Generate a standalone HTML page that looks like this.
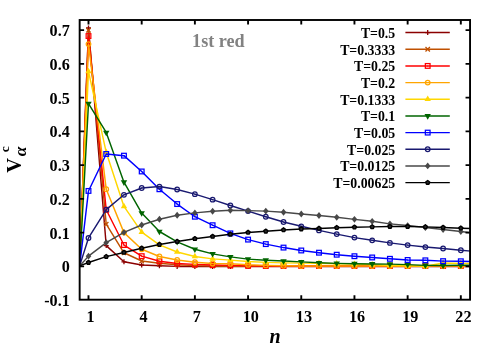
<!DOCTYPE html>
<html><head><meta charset="utf-8"><title>plot</title>
<style>
html,body{margin:0;padding:0;background:#fff;}
body{width:500px;height:350px;overflow:hidden;}
svg{display:block;will-change:transform;}
text{font-family:"Liberation Serif",serif;font-weight:bold;fill:#000;}
</style></head><body>
<svg width="500" height="350" viewBox="0 0 500 350">
<rect x="0" y="0" width="500" height="350" fill="#fff"/>
<defs><clipPath id="c"><rect x="79.7" y="20.0" width="390.4" height="279.7"/></clipPath></defs>

<g clip-path="url(#c)">
<path d="M79.65 265.90L88.50 27.98L106.23 245.61L123.96 261.81L141.69 265.00L159.42 265.80L177.15 266.40L194.88 266.40L212.61 266.40L230.34 266.40L248.07 266.40L265.80 266.40L283.53 266.40L301.26 266.40L318.99 266.40L336.72 266.40L354.45 266.40L372.18 266.40L389.91 266.40L407.64 266.40L425.37 266.40L443.10 266.40L460.83 266.40L478.56 266.40" stroke="#8b0000" stroke-width="1.45" fill="none" stroke-linejoin="round"/>
<path d="M86.00 27.98H91.00M88.50 25.48V30.48" stroke="#8b0000" stroke-width="1.3" fill="none"/>
<path d="M103.73 245.61H108.73M106.23 243.11V248.11" stroke="#8b0000" stroke-width="1.3" fill="none"/>
<path d="M121.46 261.81H126.46M123.96 259.31V264.31" stroke="#8b0000" stroke-width="1.3" fill="none"/>
<path d="M139.19 265.00H144.19M141.69 262.50V267.50" stroke="#8b0000" stroke-width="1.3" fill="none"/>
<path d="M156.92 265.80H161.92M159.42 263.30V268.30" stroke="#8b0000" stroke-width="1.3" fill="none"/>
<path d="M174.65 266.40H179.65M177.15 263.90V268.90" stroke="#8b0000" stroke-width="1.3" fill="none"/>
<path d="M192.38 266.40H197.38M194.88 263.90V268.90" stroke="#8b0000" stroke-width="1.3" fill="none"/>
<path d="M210.11 266.40H215.11M212.61 263.90V268.90" stroke="#8b0000" stroke-width="1.3" fill="none"/>
<path d="M227.84 266.40H232.84M230.34 263.90V268.90" stroke="#8b0000" stroke-width="1.3" fill="none"/>
<path d="M245.57 266.40H250.57M248.07 263.90V268.90" stroke="#8b0000" stroke-width="1.3" fill="none"/>
<path d="M263.30 266.40H268.30M265.80 263.90V268.90" stroke="#8b0000" stroke-width="1.3" fill="none"/>
<path d="M281.03 266.40H286.03M283.53 263.90V268.90" stroke="#8b0000" stroke-width="1.3" fill="none"/>
<path d="M298.76 266.40H303.76M301.26 263.90V268.90" stroke="#8b0000" stroke-width="1.3" fill="none"/>
<path d="M316.49 266.40H321.49M318.99 263.90V268.90" stroke="#8b0000" stroke-width="1.3" fill="none"/>
<path d="M334.22 266.40H339.22M336.72 263.90V268.90" stroke="#8b0000" stroke-width="1.3" fill="none"/>
<path d="M351.95 266.40H356.95M354.45 263.90V268.90" stroke="#8b0000" stroke-width="1.3" fill="none"/>
<path d="M369.68 266.40H374.68M372.18 263.90V268.90" stroke="#8b0000" stroke-width="1.3" fill="none"/>
<path d="M387.41 266.40H392.41M389.91 263.90V268.90" stroke="#8b0000" stroke-width="1.3" fill="none"/>
<path d="M405.14 266.40H410.14M407.64 263.90V268.90" stroke="#8b0000" stroke-width="1.3" fill="none"/>
<path d="M422.87 266.40H427.87M425.37 263.90V268.90" stroke="#8b0000" stroke-width="1.3" fill="none"/>
<path d="M440.60 266.40H445.60M443.10 263.90V268.90" stroke="#8b0000" stroke-width="1.3" fill="none"/>
<path d="M458.33 266.40H463.33M460.83 263.90V268.90" stroke="#8b0000" stroke-width="1.3" fill="none"/>
<path d="M79.65 265.90L88.50 30.34L106.23 224.21L123.96 252.77L141.69 260.97L159.42 263.18L177.15 264.80L194.88 265.60L212.61 266.00L230.34 266.30L248.07 266.30L265.80 266.30L283.53 266.30L301.26 266.30L318.99 266.30L336.72 266.30L354.45 266.30L372.18 266.30L389.91 266.30L407.64 266.30L425.37 266.30L443.10 266.30L460.83 266.30L478.56 266.30" stroke="#c05000" stroke-width="1.45" fill="none" stroke-linejoin="round"/>
<path d="M86.30 28.14L90.70 32.54M86.30 32.54L90.70 28.14" stroke="#c05000" stroke-width="1.3" fill="none"/>
<path d="M104.03 222.01L108.43 226.41M104.03 226.41L108.43 222.01" stroke="#c05000" stroke-width="1.3" fill="none"/>
<path d="M121.76 250.57L126.16 254.97M121.76 254.97L126.16 250.57" stroke="#c05000" stroke-width="1.3" fill="none"/>
<path d="M139.49 258.77L143.89 263.17M139.49 263.17L143.89 258.77" stroke="#c05000" stroke-width="1.3" fill="none"/>
<path d="M157.22 260.98L161.62 265.38M157.22 265.38L161.62 260.98" stroke="#c05000" stroke-width="1.3" fill="none"/>
<path d="M174.95 262.60L179.35 267.00M174.95 267.00L179.35 262.60" stroke="#c05000" stroke-width="1.3" fill="none"/>
<path d="M192.68 263.40L197.08 267.80M192.68 267.80L197.08 263.40" stroke="#c05000" stroke-width="1.3" fill="none"/>
<path d="M210.41 263.80L214.81 268.20M210.41 268.20L214.81 263.80" stroke="#c05000" stroke-width="1.3" fill="none"/>
<path d="M228.14 264.10L232.54 268.50M228.14 268.50L232.54 264.10" stroke="#c05000" stroke-width="1.3" fill="none"/>
<path d="M245.87 264.10L250.27 268.50M245.87 268.50L250.27 264.10" stroke="#c05000" stroke-width="1.3" fill="none"/>
<path d="M263.60 264.10L268.00 268.50M263.60 268.50L268.00 264.10" stroke="#c05000" stroke-width="1.3" fill="none"/>
<path d="M281.33 264.10L285.73 268.50M281.33 268.50L285.73 264.10" stroke="#c05000" stroke-width="1.3" fill="none"/>
<path d="M299.06 264.10L303.46 268.50M299.06 268.50L303.46 264.10" stroke="#c05000" stroke-width="1.3" fill="none"/>
<path d="M316.79 264.10L321.19 268.50M316.79 268.50L321.19 264.10" stroke="#c05000" stroke-width="1.3" fill="none"/>
<path d="M334.52 264.10L338.92 268.50M334.52 268.50L338.92 264.10" stroke="#c05000" stroke-width="1.3" fill="none"/>
<path d="M352.25 264.10L356.65 268.50M352.25 268.50L356.65 264.10" stroke="#c05000" stroke-width="1.3" fill="none"/>
<path d="M369.98 264.10L374.38 268.50M369.98 268.50L374.38 264.10" stroke="#c05000" stroke-width="1.3" fill="none"/>
<path d="M387.71 264.10L392.11 268.50M387.71 268.50L392.11 264.10" stroke="#c05000" stroke-width="1.3" fill="none"/>
<path d="M405.44 264.10L409.84 268.50M405.44 268.50L409.84 264.10" stroke="#c05000" stroke-width="1.3" fill="none"/>
<path d="M423.17 264.10L427.57 268.50M423.17 268.50L427.57 264.10" stroke="#c05000" stroke-width="1.3" fill="none"/>
<path d="M440.90 264.10L445.30 268.50M440.90 268.50L445.30 264.10" stroke="#c05000" stroke-width="1.3" fill="none"/>
<path d="M458.63 264.10L463.03 268.50M458.63 268.50L463.03 264.10" stroke="#c05000" stroke-width="1.3" fill="none"/>
<path d="M79.65 265.90L88.50 36.05L106.23 209.76L123.96 245.04L141.69 256.16L159.42 261.27L177.15 263.52L194.88 264.40L212.61 265.00L230.34 265.40L248.07 265.80L265.80 266.00L283.53 266.00L301.26 266.00L318.99 266.00L336.72 266.00L354.45 266.00L372.18 266.00L389.91 266.00L407.64 266.00L425.37 266.00L443.10 266.00L460.83 266.00L478.56 266.00" stroke="#ff0000" stroke-width="1.45" fill="none" stroke-linejoin="round"/>
<rect x="86.15" y="33.70" width="4.7" height="4.7" stroke="#ff0000" stroke-width="1.25" fill="none"/><circle cx="88.50" cy="36.05" r="0.55" fill="#ff0000"/>
<rect x="103.88" y="207.41" width="4.7" height="4.7" stroke="#ff0000" stroke-width="1.25" fill="none"/><circle cx="106.23" cy="209.76" r="0.55" fill="#ff0000"/>
<rect x="121.61" y="242.69" width="4.7" height="4.7" stroke="#ff0000" stroke-width="1.25" fill="none"/><circle cx="123.96" cy="245.04" r="0.55" fill="#ff0000"/>
<rect x="139.34" y="253.81" width="4.7" height="4.7" stroke="#ff0000" stroke-width="1.25" fill="none"/><circle cx="141.69" cy="256.16" r="0.55" fill="#ff0000"/>
<rect x="157.07" y="258.92" width="4.7" height="4.7" stroke="#ff0000" stroke-width="1.25" fill="none"/><circle cx="159.42" cy="261.27" r="0.55" fill="#ff0000"/>
<rect x="174.80" y="261.17" width="4.7" height="4.7" stroke="#ff0000" stroke-width="1.25" fill="none"/><circle cx="177.15" cy="263.52" r="0.55" fill="#ff0000"/>
<rect x="192.53" y="262.05" width="4.7" height="4.7" stroke="#ff0000" stroke-width="1.25" fill="none"/><circle cx="194.88" cy="264.40" r="0.55" fill="#ff0000"/>
<rect x="210.26" y="262.65" width="4.7" height="4.7" stroke="#ff0000" stroke-width="1.25" fill="none"/><circle cx="212.61" cy="265.00" r="0.55" fill="#ff0000"/>
<rect x="227.99" y="263.05" width="4.7" height="4.7" stroke="#ff0000" stroke-width="1.25" fill="none"/><circle cx="230.34" cy="265.40" r="0.55" fill="#ff0000"/>
<rect x="245.72" y="263.45" width="4.7" height="4.7" stroke="#ff0000" stroke-width="1.25" fill="none"/><circle cx="248.07" cy="265.80" r="0.55" fill="#ff0000"/>
<rect x="263.45" y="263.65" width="4.7" height="4.7" stroke="#ff0000" stroke-width="1.25" fill="none"/><circle cx="265.80" cy="266.00" r="0.55" fill="#ff0000"/>
<rect x="281.18" y="263.65" width="4.7" height="4.7" stroke="#ff0000" stroke-width="1.25" fill="none"/><circle cx="283.53" cy="266.00" r="0.55" fill="#ff0000"/>
<rect x="298.91" y="263.65" width="4.7" height="4.7" stroke="#ff0000" stroke-width="1.25" fill="none"/><circle cx="301.26" cy="266.00" r="0.55" fill="#ff0000"/>
<rect x="316.64" y="263.65" width="4.7" height="4.7" stroke="#ff0000" stroke-width="1.25" fill="none"/><circle cx="318.99" cy="266.00" r="0.55" fill="#ff0000"/>
<rect x="334.37" y="263.65" width="4.7" height="4.7" stroke="#ff0000" stroke-width="1.25" fill="none"/><circle cx="336.72" cy="266.00" r="0.55" fill="#ff0000"/>
<rect x="352.10" y="263.65" width="4.7" height="4.7" stroke="#ff0000" stroke-width="1.25" fill="none"/><circle cx="354.45" cy="266.00" r="0.55" fill="#ff0000"/>
<rect x="369.83" y="263.65" width="4.7" height="4.7" stroke="#ff0000" stroke-width="1.25" fill="none"/><circle cx="372.18" cy="266.00" r="0.55" fill="#ff0000"/>
<rect x="387.56" y="263.65" width="4.7" height="4.7" stroke="#ff0000" stroke-width="1.25" fill="none"/><circle cx="389.91" cy="266.00" r="0.55" fill="#ff0000"/>
<rect x="405.29" y="263.65" width="4.7" height="4.7" stroke="#ff0000" stroke-width="1.25" fill="none"/><circle cx="407.64" cy="266.00" r="0.55" fill="#ff0000"/>
<rect x="423.02" y="263.65" width="4.7" height="4.7" stroke="#ff0000" stroke-width="1.25" fill="none"/><circle cx="425.37" cy="266.00" r="0.55" fill="#ff0000"/>
<rect x="440.75" y="263.65" width="4.7" height="4.7" stroke="#ff0000" stroke-width="1.25" fill="none"/><circle cx="443.10" cy="266.00" r="0.55" fill="#ff0000"/>
<rect x="458.48" y="263.65" width="4.7" height="4.7" stroke="#ff0000" stroke-width="1.25" fill="none"/><circle cx="460.83" cy="266.00" r="0.55" fill="#ff0000"/>
<path d="M79.65 265.90L88.50 44.11L106.23 189.16L123.96 232.61L141.69 249.21L159.42 256.46L177.15 259.99L194.88 262.20L212.61 263.50L230.34 263.80L248.07 264.80L265.80 265.40L283.53 265.80L301.26 266.00L318.99 266.00L336.72 266.00L354.45 266.00L372.18 266.00L389.91 266.00L407.64 266.00L425.37 266.00L443.10 266.00L460.83 266.00L478.56 266.00" stroke="#ffa500" stroke-width="1.45" fill="none" stroke-linejoin="round"/>
<circle cx="88.50" cy="44.11" r="2.3" stroke="#ffa500" stroke-width="1.25" fill="none"/><circle cx="88.50" cy="44.11" r="0.55" fill="#ffa500"/>
<circle cx="106.23" cy="189.16" r="2.3" stroke="#ffa500" stroke-width="1.25" fill="none"/><circle cx="106.23" cy="189.16" r="0.55" fill="#ffa500"/>
<circle cx="123.96" cy="232.61" r="2.3" stroke="#ffa500" stroke-width="1.25" fill="none"/><circle cx="123.96" cy="232.61" r="0.55" fill="#ffa500"/>
<circle cx="141.69" cy="249.21" r="2.3" stroke="#ffa500" stroke-width="1.25" fill="none"/><circle cx="141.69" cy="249.21" r="0.55" fill="#ffa500"/>
<circle cx="159.42" cy="256.46" r="2.3" stroke="#ffa500" stroke-width="1.25" fill="none"/><circle cx="159.42" cy="256.46" r="0.55" fill="#ffa500"/>
<circle cx="177.15" cy="259.99" r="2.3" stroke="#ffa500" stroke-width="1.25" fill="none"/><circle cx="177.15" cy="259.99" r="0.55" fill="#ffa500"/>
<circle cx="194.88" cy="262.20" r="2.3" stroke="#ffa500" stroke-width="1.25" fill="none"/><circle cx="194.88" cy="262.20" r="0.55" fill="#ffa500"/>
<circle cx="212.61" cy="263.50" r="2.3" stroke="#ffa500" stroke-width="1.25" fill="none"/><circle cx="212.61" cy="263.50" r="0.55" fill="#ffa500"/>
<circle cx="230.34" cy="263.80" r="2.3" stroke="#ffa500" stroke-width="1.25" fill="none"/><circle cx="230.34" cy="263.80" r="0.55" fill="#ffa500"/>
<circle cx="248.07" cy="264.80" r="2.3" stroke="#ffa500" stroke-width="1.25" fill="none"/><circle cx="248.07" cy="264.80" r="0.55" fill="#ffa500"/>
<circle cx="265.80" cy="265.40" r="2.3" stroke="#ffa500" stroke-width="1.25" fill="none"/><circle cx="265.80" cy="265.40" r="0.55" fill="#ffa500"/>
<circle cx="283.53" cy="265.80" r="2.3" stroke="#ffa500" stroke-width="1.25" fill="none"/><circle cx="283.53" cy="265.80" r="0.55" fill="#ffa500"/>
<circle cx="301.26" cy="266.00" r="2.3" stroke="#ffa500" stroke-width="1.25" fill="none"/><circle cx="301.26" cy="266.00" r="0.55" fill="#ffa500"/>
<circle cx="318.99" cy="266.00" r="2.3" stroke="#ffa500" stroke-width="1.25" fill="none"/><circle cx="318.99" cy="266.00" r="0.55" fill="#ffa500"/>
<circle cx="336.72" cy="266.00" r="2.3" stroke="#ffa500" stroke-width="1.25" fill="none"/><circle cx="336.72" cy="266.00" r="0.55" fill="#ffa500"/>
<circle cx="354.45" cy="266.00" r="2.3" stroke="#ffa500" stroke-width="1.25" fill="none"/><circle cx="354.45" cy="266.00" r="0.55" fill="#ffa500"/>
<circle cx="372.18" cy="266.00" r="2.3" stroke="#ffa500" stroke-width="1.25" fill="none"/><circle cx="372.18" cy="266.00" r="0.55" fill="#ffa500"/>
<circle cx="389.91" cy="266.00" r="2.3" stroke="#ffa500" stroke-width="1.25" fill="none"/><circle cx="389.91" cy="266.00" r="0.55" fill="#ffa500"/>
<circle cx="407.64" cy="266.00" r="2.3" stroke="#ffa500" stroke-width="1.25" fill="none"/><circle cx="407.64" cy="266.00" r="0.55" fill="#ffa500"/>
<circle cx="425.37" cy="266.00" r="2.3" stroke="#ffa500" stroke-width="1.25" fill="none"/><circle cx="425.37" cy="266.00" r="0.55" fill="#ffa500"/>
<circle cx="443.10" cy="266.00" r="2.3" stroke="#ffa500" stroke-width="1.25" fill="none"/><circle cx="443.10" cy="266.00" r="0.55" fill="#ffa500"/>
<circle cx="460.83" cy="266.00" r="2.3" stroke="#ffa500" stroke-width="1.25" fill="none"/><circle cx="460.83" cy="266.00" r="0.55" fill="#ffa500"/>
<path d="M79.65 265.90L88.50 71.33L106.23 152.30L123.96 206.40L141.69 232.10L159.42 244.80L177.15 252.00L194.88 256.46L212.61 258.88L230.34 260.10L248.07 261.50L265.80 262.40L283.53 262.90L301.26 263.10L318.99 263.30L336.72 263.80L354.45 264.10L372.18 264.60L389.91 265.50L407.64 265.80L425.37 266.30L443.10 263.00L460.83 263.40L478.56 263.60" stroke="#ffd700" stroke-width="1.45" fill="none" stroke-linejoin="round"/>
<path d="M88.50 67.63L91.70 73.18L85.30 73.18Z" fill="#ffd700"/>
<path d="M106.23 148.60L109.43 154.15L103.03 154.15Z" fill="#ffd700"/>
<path d="M123.96 202.70L127.16 208.25L120.76 208.25Z" fill="#ffd700"/>
<path d="M141.69 228.40L144.89 233.95L138.49 233.95Z" fill="#ffd700"/>
<path d="M159.42 241.10L162.62 246.65L156.22 246.65Z" fill="#ffd700"/>
<path d="M177.15 248.30L180.35 253.85L173.95 253.85Z" fill="#ffd700"/>
<path d="M194.88 252.76L198.08 258.31L191.68 258.31Z" fill="#ffd700"/>
<path d="M212.61 255.18L215.81 260.73L209.41 260.73Z" fill="#ffd700"/>
<path d="M230.34 256.40L233.54 261.95L227.14 261.95Z" fill="#ffd700"/>
<path d="M248.07 257.80L251.27 263.35L244.87 263.35Z" fill="#ffd700"/>
<path d="M265.80 258.70L269.00 264.25L262.60 264.25Z" fill="#ffd700"/>
<path d="M283.53 259.20L286.73 264.75L280.33 264.75Z" fill="#ffd700"/>
<path d="M301.26 259.40L304.46 264.95L298.06 264.95Z" fill="#ffd700"/>
<path d="M318.99 259.60L322.19 265.15L315.79 265.15Z" fill="#ffd700"/>
<path d="M336.72 260.10L339.92 265.65L333.52 265.65Z" fill="#ffd700"/>
<path d="M354.45 260.40L357.65 265.95L351.25 265.95Z" fill="#ffd700"/>
<path d="M372.18 260.90L375.38 266.45L368.98 266.45Z" fill="#ffd700"/>
<path d="M389.91 261.80L393.11 267.35L386.71 267.35Z" fill="#ffd700"/>
<path d="M407.64 262.10L410.84 267.65L404.44 267.65Z" fill="#ffd700"/>
<path d="M425.37 262.60L428.57 268.15L422.17 268.15Z" fill="#ffd700"/>
<path d="M443.10 259.30L446.30 264.85L439.90 264.85Z" fill="#ffd700"/>
<path d="M460.83 259.70L464.03 265.25L457.63 265.25Z" fill="#ffd700"/>
<path d="M79.65 265.90L88.50 103.58L106.23 132.48L123.96 182.21L141.69 213.12L159.42 231.50L177.15 241.85L194.88 249.27L212.61 253.91L230.34 256.90L248.07 259.10L265.80 260.20L283.53 261.00L301.26 261.90L318.99 262.80L336.72 263.40L354.45 263.70L372.18 263.95L389.91 264.10L407.64 264.60L425.37 265.40L443.10 265.50L460.83 265.30L478.56 265.30" stroke="#006400" stroke-width="1.45" fill="none" stroke-linejoin="round"/>
<path d="M88.50 107.28L91.70 101.73L85.30 101.73Z" fill="#006400"/>
<path d="M106.23 136.18L109.43 130.63L103.03 130.63Z" fill="#006400"/>
<path d="M123.96 185.91L127.16 180.36L120.76 180.36Z" fill="#006400"/>
<path d="M141.69 216.82L144.89 211.27L138.49 211.27Z" fill="#006400"/>
<path d="M159.42 235.20L162.62 229.65L156.22 229.65Z" fill="#006400"/>
<path d="M177.15 245.55L180.35 240.00L173.95 240.00Z" fill="#006400"/>
<path d="M194.88 252.97L198.08 247.42L191.68 247.42Z" fill="#006400"/>
<path d="M212.61 257.61L215.81 252.06L209.41 252.06Z" fill="#006400"/>
<path d="M230.34 260.60L233.54 255.05L227.14 255.05Z" fill="#006400"/>
<path d="M248.07 262.80L251.27 257.25L244.87 257.25Z" fill="#006400"/>
<path d="M265.80 263.90L269.00 258.35L262.60 258.35Z" fill="#006400"/>
<path d="M283.53 264.70L286.73 259.15L280.33 259.15Z" fill="#006400"/>
<path d="M301.26 265.60L304.46 260.05L298.06 260.05Z" fill="#006400"/>
<path d="M318.99 266.50L322.19 260.95L315.79 260.95Z" fill="#006400"/>
<path d="M336.72 267.10L339.92 261.55L333.52 261.55Z" fill="#006400"/>
<path d="M354.45 267.40L357.65 261.85L351.25 261.85Z" fill="#006400"/>
<path d="M372.18 267.65L375.38 262.10L368.98 262.10Z" fill="#006400"/>
<path d="M389.91 267.80L393.11 262.25L386.71 262.25Z" fill="#006400"/>
<path d="M407.64 268.30L410.84 262.75L404.44 262.75Z" fill="#006400"/>
<path d="M425.37 269.10L428.57 263.55L422.17 263.55Z" fill="#006400"/>
<path d="M443.10 269.20L446.30 263.65L439.90 263.65Z" fill="#006400"/>
<path d="M460.83 269.00L464.03 263.45L457.63 263.45Z" fill="#006400"/>
<path d="M79.65 265.90L88.50 190.94L106.23 153.98L123.96 155.66L141.69 171.46L159.42 189.26L177.15 204.05L194.88 216.72L212.61 225.22L230.34 233.38L248.07 239.60L265.80 244.10L283.53 247.59L301.26 250.48L318.99 252.70L336.72 254.72L354.45 256.20L372.18 257.47L389.91 258.82L407.64 259.99L425.37 260.33L443.10 261.13L460.83 261.27L478.56 261.67" stroke="#0000ff" stroke-width="1.45" fill="none" stroke-linejoin="round"/>
<rect x="86.15" y="188.59" width="4.7" height="4.7" stroke="#0000ff" stroke-width="1.25" fill="none"/><circle cx="88.50" cy="190.94" r="0.55" fill="#0000ff"/>
<rect x="103.88" y="151.63" width="4.7" height="4.7" stroke="#0000ff" stroke-width="1.25" fill="none"/><circle cx="106.23" cy="153.98" r="0.55" fill="#0000ff"/>
<rect x="121.61" y="153.31" width="4.7" height="4.7" stroke="#0000ff" stroke-width="1.25" fill="none"/><circle cx="123.96" cy="155.66" r="0.55" fill="#0000ff"/>
<rect x="139.34" y="169.11" width="4.7" height="4.7" stroke="#0000ff" stroke-width="1.25" fill="none"/><circle cx="141.69" cy="171.46" r="0.55" fill="#0000ff"/>
<rect x="157.07" y="186.91" width="4.7" height="4.7" stroke="#0000ff" stroke-width="1.25" fill="none"/><circle cx="159.42" cy="189.26" r="0.55" fill="#0000ff"/>
<rect x="174.80" y="201.70" width="4.7" height="4.7" stroke="#0000ff" stroke-width="1.25" fill="none"/><circle cx="177.15" cy="204.05" r="0.55" fill="#0000ff"/>
<rect x="192.53" y="214.37" width="4.7" height="4.7" stroke="#0000ff" stroke-width="1.25" fill="none"/><circle cx="194.88" cy="216.72" r="0.55" fill="#0000ff"/>
<rect x="210.26" y="222.87" width="4.7" height="4.7" stroke="#0000ff" stroke-width="1.25" fill="none"/><circle cx="212.61" cy="225.22" r="0.55" fill="#0000ff"/>
<rect x="227.99" y="231.03" width="4.7" height="4.7" stroke="#0000ff" stroke-width="1.25" fill="none"/><circle cx="230.34" cy="233.38" r="0.55" fill="#0000ff"/>
<rect x="245.72" y="237.25" width="4.7" height="4.7" stroke="#0000ff" stroke-width="1.25" fill="none"/><circle cx="248.07" cy="239.60" r="0.55" fill="#0000ff"/>
<rect x="263.45" y="241.75" width="4.7" height="4.7" stroke="#0000ff" stroke-width="1.25" fill="none"/><circle cx="265.80" cy="244.10" r="0.55" fill="#0000ff"/>
<rect x="281.18" y="245.24" width="4.7" height="4.7" stroke="#0000ff" stroke-width="1.25" fill="none"/><circle cx="283.53" cy="247.59" r="0.55" fill="#0000ff"/>
<rect x="298.91" y="248.13" width="4.7" height="4.7" stroke="#0000ff" stroke-width="1.25" fill="none"/><circle cx="301.26" cy="250.48" r="0.55" fill="#0000ff"/>
<rect x="316.64" y="250.35" width="4.7" height="4.7" stroke="#0000ff" stroke-width="1.25" fill="none"/><circle cx="318.99" cy="252.70" r="0.55" fill="#0000ff"/>
<rect x="334.37" y="252.37" width="4.7" height="4.7" stroke="#0000ff" stroke-width="1.25" fill="none"/><circle cx="336.72" cy="254.72" r="0.55" fill="#0000ff"/>
<rect x="352.10" y="253.85" width="4.7" height="4.7" stroke="#0000ff" stroke-width="1.25" fill="none"/><circle cx="354.45" cy="256.20" r="0.55" fill="#0000ff"/>
<rect x="369.83" y="255.12" width="4.7" height="4.7" stroke="#0000ff" stroke-width="1.25" fill="none"/><circle cx="372.18" cy="257.47" r="0.55" fill="#0000ff"/>
<rect x="387.56" y="256.47" width="4.7" height="4.7" stroke="#0000ff" stroke-width="1.25" fill="none"/><circle cx="389.91" cy="258.82" r="0.55" fill="#0000ff"/>
<rect x="405.29" y="257.64" width="4.7" height="4.7" stroke="#0000ff" stroke-width="1.25" fill="none"/><circle cx="407.64" cy="259.99" r="0.55" fill="#0000ff"/>
<rect x="423.02" y="257.98" width="4.7" height="4.7" stroke="#0000ff" stroke-width="1.25" fill="none"/><circle cx="425.37" cy="260.33" r="0.55" fill="#0000ff"/>
<rect x="440.75" y="258.78" width="4.7" height="4.7" stroke="#0000ff" stroke-width="1.25" fill="none"/><circle cx="443.10" cy="261.13" r="0.55" fill="#0000ff"/>
<rect x="458.48" y="258.92" width="4.7" height="4.7" stroke="#0000ff" stroke-width="1.25" fill="none"/><circle cx="460.83" cy="261.27" r="0.55" fill="#0000ff"/>
<path d="M79.65 265.90L88.50 237.98L106.23 209.63L123.96 194.81L141.69 187.95L159.42 186.58L177.15 189.50L194.88 194.17L212.61 199.68L230.34 205.53L248.07 211.10L265.80 216.72L283.53 221.99L301.26 226.32L318.99 230.39L336.72 234.09L354.45 237.61L372.18 240.34L389.91 242.89L407.64 245.11L425.37 247.06L443.10 248.47L460.83 250.25L478.56 251.76" stroke="#191970" stroke-width="1.45" fill="none" stroke-linejoin="round"/>
<circle cx="88.50" cy="237.98" r="2.3" stroke="#191970" stroke-width="1.25" fill="none"/><circle cx="88.50" cy="237.98" r="0.55" fill="#191970"/>
<circle cx="106.23" cy="209.63" r="2.3" stroke="#191970" stroke-width="1.25" fill="none"/><circle cx="106.23" cy="209.63" r="0.55" fill="#191970"/>
<circle cx="123.96" cy="194.81" r="2.3" stroke="#191970" stroke-width="1.25" fill="none"/><circle cx="123.96" cy="194.81" r="0.55" fill="#191970"/>
<circle cx="141.69" cy="187.95" r="2.3" stroke="#191970" stroke-width="1.25" fill="none"/><circle cx="141.69" cy="187.95" r="0.55" fill="#191970"/>
<circle cx="159.42" cy="186.58" r="2.3" stroke="#191970" stroke-width="1.25" fill="none"/><circle cx="159.42" cy="186.58" r="0.55" fill="#191970"/>
<circle cx="177.15" cy="189.50" r="2.3" stroke="#191970" stroke-width="1.25" fill="none"/><circle cx="177.15" cy="189.50" r="0.55" fill="#191970"/>
<circle cx="194.88" cy="194.17" r="2.3" stroke="#191970" stroke-width="1.25" fill="none"/><circle cx="194.88" cy="194.17" r="0.55" fill="#191970"/>
<circle cx="212.61" cy="199.68" r="2.3" stroke="#191970" stroke-width="1.25" fill="none"/><circle cx="212.61" cy="199.68" r="0.55" fill="#191970"/>
<circle cx="230.34" cy="205.53" r="2.3" stroke="#191970" stroke-width="1.25" fill="none"/><circle cx="230.34" cy="205.53" r="0.55" fill="#191970"/>
<circle cx="248.07" cy="211.10" r="2.3" stroke="#191970" stroke-width="1.25" fill="none"/><circle cx="248.07" cy="211.10" r="0.55" fill="#191970"/>
<circle cx="265.80" cy="216.72" r="2.3" stroke="#191970" stroke-width="1.25" fill="none"/><circle cx="265.80" cy="216.72" r="0.55" fill="#191970"/>
<circle cx="283.53" cy="221.99" r="2.3" stroke="#191970" stroke-width="1.25" fill="none"/><circle cx="283.53" cy="221.99" r="0.55" fill="#191970"/>
<circle cx="301.26" cy="226.32" r="2.3" stroke="#191970" stroke-width="1.25" fill="none"/><circle cx="301.26" cy="226.32" r="0.55" fill="#191970"/>
<circle cx="318.99" cy="230.39" r="2.3" stroke="#191970" stroke-width="1.25" fill="none"/><circle cx="318.99" cy="230.39" r="0.55" fill="#191970"/>
<circle cx="336.72" cy="234.09" r="2.3" stroke="#191970" stroke-width="1.25" fill="none"/><circle cx="336.72" cy="234.09" r="0.55" fill="#191970"/>
<circle cx="354.45" cy="237.61" r="2.3" stroke="#191970" stroke-width="1.25" fill="none"/><circle cx="354.45" cy="237.61" r="0.55" fill="#191970"/>
<circle cx="372.18" cy="240.34" r="2.3" stroke="#191970" stroke-width="1.25" fill="none"/><circle cx="372.18" cy="240.34" r="0.55" fill="#191970"/>
<circle cx="389.91" cy="242.89" r="2.3" stroke="#191970" stroke-width="1.25" fill="none"/><circle cx="389.91" cy="242.89" r="0.55" fill="#191970"/>
<circle cx="407.64" cy="245.11" r="2.3" stroke="#191970" stroke-width="1.25" fill="none"/><circle cx="407.64" cy="245.11" r="0.55" fill="#191970"/>
<circle cx="425.37" cy="247.06" r="2.3" stroke="#191970" stroke-width="1.25" fill="none"/><circle cx="425.37" cy="247.06" r="0.55" fill="#191970"/>
<circle cx="443.10" cy="248.47" r="2.3" stroke="#191970" stroke-width="1.25" fill="none"/><circle cx="443.10" cy="248.47" r="0.55" fill="#191970"/>
<circle cx="460.83" cy="250.25" r="2.3" stroke="#191970" stroke-width="1.25" fill="none"/><circle cx="460.83" cy="250.25" r="0.55" fill="#191970"/>
<path d="M79.65 265.90L88.50 256.13L106.23 242.59L123.96 232.44L141.69 225.01L159.42 219.27L177.15 215.27L194.88 212.88L212.61 211.27L230.34 210.33L248.07 210.63L265.80 211.10L283.53 212.25L301.26 213.99L318.99 215.51L336.72 217.29L354.45 219.37L372.18 221.28L389.91 223.87L407.64 225.59L425.37 227.53L443.10 229.58L460.83 231.53L478.56 233.62" stroke="#484848" stroke-width="1.45" fill="none" stroke-linejoin="round"/>
<path d="M88.50 252.73L91.30 256.13L88.50 259.53L85.70 256.13Z" fill="#484848"/>
<path d="M106.23 239.19L109.03 242.59L106.23 245.99L103.43 242.59Z" fill="#484848"/>
<path d="M123.96 229.04L126.76 232.44L123.96 235.84L121.16 232.44Z" fill="#484848"/>
<path d="M141.69 221.61L144.49 225.01L141.69 228.41L138.89 225.01Z" fill="#484848"/>
<path d="M159.42 215.87L162.22 219.27L159.42 222.67L156.62 219.27Z" fill="#484848"/>
<path d="M177.15 211.87L179.95 215.27L177.15 218.67L174.35 215.27Z" fill="#484848"/>
<path d="M194.88 209.48L197.68 212.88L194.88 216.28L192.08 212.88Z" fill="#484848"/>
<path d="M212.61 207.87L215.41 211.27L212.61 214.67L209.81 211.27Z" fill="#484848"/>
<path d="M230.34 206.93L233.14 210.33L230.34 213.73L227.54 210.33Z" fill="#484848"/>
<path d="M248.07 207.23L250.87 210.63L248.07 214.03L245.27 210.63Z" fill="#484848"/>
<path d="M265.80 207.70L268.60 211.10L265.80 214.50L263.00 211.10Z" fill="#484848"/>
<path d="M283.53 208.85L286.33 212.25L283.53 215.65L280.73 212.25Z" fill="#484848"/>
<path d="M301.26 210.59L304.06 213.99L301.26 217.39L298.46 213.99Z" fill="#484848"/>
<path d="M318.99 212.11L321.79 215.51L318.99 218.91L316.19 215.51Z" fill="#484848"/>
<path d="M336.72 213.89L339.52 217.29L336.72 220.69L333.92 217.29Z" fill="#484848"/>
<path d="M354.45 215.97L357.25 219.37L354.45 222.77L351.65 219.37Z" fill="#484848"/>
<path d="M372.18 217.88L374.98 221.28L372.18 224.68L369.38 221.28Z" fill="#484848"/>
<path d="M389.91 220.47L392.71 223.87L389.91 227.27L387.11 223.87Z" fill="#484848"/>
<path d="M407.64 222.19L410.44 225.59L407.64 228.99L404.84 225.59Z" fill="#484848"/>
<path d="M425.37 224.13L428.17 227.53L425.37 230.93L422.57 227.53Z" fill="#484848"/>
<path d="M443.10 226.18L445.90 229.58L443.10 232.98L440.30 229.58Z" fill="#484848"/>
<path d="M460.83 228.13L463.63 231.53L460.83 234.93L458.03 231.53Z" fill="#484848"/>
<path d="M79.65 265.90L88.50 262.51L106.23 256.63L123.96 252.43L141.69 248.23L159.42 244.50L177.15 241.51L194.88 238.72L212.61 236.47L230.34 234.29L248.07 232.41L265.80 231.26L283.53 229.92L301.26 228.98L318.99 228.41L336.72 227.67L354.45 227.20L372.18 226.90L389.91 226.56L407.64 226.56L425.37 226.90L443.10 227.53L460.83 228.17L478.56 228.91" stroke="#000000" stroke-width="1.45" fill="none" stroke-linejoin="round"/>
<path d="M88.50 260.41L90.50 261.86L89.73 264.21L87.27 264.21L86.50 261.86Z" fill="#2a2a2a" stroke="#000000" stroke-width="1.4" stroke-linejoin="round"/>
<path d="M106.23 254.53L108.23 255.98L107.46 258.33L105.00 258.33L104.23 255.98Z" fill="#2a2a2a" stroke="#000000" stroke-width="1.4" stroke-linejoin="round"/>
<path d="M123.96 250.33L125.96 251.78L125.19 254.13L122.73 254.13L121.96 251.78Z" fill="#2a2a2a" stroke="#000000" stroke-width="1.4" stroke-linejoin="round"/>
<path d="M141.69 246.13L143.69 247.58L142.92 249.93L140.46 249.93L139.69 247.58Z" fill="#2a2a2a" stroke="#000000" stroke-width="1.4" stroke-linejoin="round"/>
<path d="M159.42 242.40L161.42 243.85L160.65 246.20L158.19 246.20L157.42 243.85Z" fill="#2a2a2a" stroke="#000000" stroke-width="1.4" stroke-linejoin="round"/>
<path d="M177.15 239.41L179.15 240.86L178.38 243.21L175.92 243.21L175.15 240.86Z" fill="#2a2a2a" stroke="#000000" stroke-width="1.4" stroke-linejoin="round"/>
<path d="M194.88 236.62L196.88 238.07L196.11 240.42L193.65 240.42L192.88 238.07Z" fill="#2a2a2a" stroke="#000000" stroke-width="1.4" stroke-linejoin="round"/>
<path d="M212.61 234.37L214.61 235.82L213.84 238.17L211.38 238.17L210.61 235.82Z" fill="#2a2a2a" stroke="#000000" stroke-width="1.4" stroke-linejoin="round"/>
<path d="M230.34 232.19L232.34 233.64L231.57 235.99L229.11 235.99L228.34 233.64Z" fill="#2a2a2a" stroke="#000000" stroke-width="1.4" stroke-linejoin="round"/>
<path d="M248.07 230.31L250.07 231.76L249.30 234.11L246.84 234.11L246.07 231.76Z" fill="#2a2a2a" stroke="#000000" stroke-width="1.4" stroke-linejoin="round"/>
<path d="M265.80 229.16L267.80 230.61L267.03 232.96L264.57 232.96L263.80 230.61Z" fill="#2a2a2a" stroke="#000000" stroke-width="1.4" stroke-linejoin="round"/>
<path d="M283.53 227.82L285.53 229.27L284.76 231.62L282.30 231.62L281.53 229.27Z" fill="#2a2a2a" stroke="#000000" stroke-width="1.4" stroke-linejoin="round"/>
<path d="M301.26 226.88L303.26 228.33L302.49 230.68L300.03 230.68L299.26 228.33Z" fill="#2a2a2a" stroke="#000000" stroke-width="1.4" stroke-linejoin="round"/>
<path d="M318.99 226.31L320.99 227.76L320.22 230.11L317.76 230.11L316.99 227.76Z" fill="#2a2a2a" stroke="#000000" stroke-width="1.4" stroke-linejoin="round"/>
<path d="M336.72 225.57L338.72 227.02L337.95 229.37L335.49 229.37L334.72 227.02Z" fill="#2a2a2a" stroke="#000000" stroke-width="1.4" stroke-linejoin="round"/>
<path d="M354.45 225.10L356.45 226.55L355.68 228.90L353.22 228.90L352.45 226.55Z" fill="#2a2a2a" stroke="#000000" stroke-width="1.4" stroke-linejoin="round"/>
<path d="M372.18 224.80L374.18 226.25L373.41 228.60L370.95 228.60L370.18 226.25Z" fill="#2a2a2a" stroke="#000000" stroke-width="1.4" stroke-linejoin="round"/>
<path d="M389.91 224.46L391.91 225.91L391.14 228.26L388.68 228.26L387.91 225.91Z" fill="#2a2a2a" stroke="#000000" stroke-width="1.4" stroke-linejoin="round"/>
<path d="M407.64 224.46L409.64 225.91L408.87 228.26L406.41 228.26L405.64 225.91Z" fill="#2a2a2a" stroke="#000000" stroke-width="1.4" stroke-linejoin="round"/>
<path d="M425.37 224.80L427.37 226.25L426.60 228.60L424.14 228.60L423.37 226.25Z" fill="#2a2a2a" stroke="#000000" stroke-width="1.4" stroke-linejoin="round"/>
<path d="M443.10 225.43L445.10 226.88L444.33 229.23L441.87 229.23L441.10 226.88Z" fill="#2a2a2a" stroke="#000000" stroke-width="1.4" stroke-linejoin="round"/>
<path d="M460.83 226.07L462.83 227.52L462.06 229.87L459.60 229.87L458.83 227.52Z" fill="#2a2a2a" stroke="#000000" stroke-width="1.4" stroke-linejoin="round"/>
</g>
<rect x="79.65" y="20.0" width="390.4" height="279.7" fill="none" stroke="#000" stroke-width="1.9"/>
<path d="M88.50 299.7V295.25M88.50 20.0V24.45M141.69 299.7V295.25M141.69 20.0V24.45M194.88 299.7V295.25M194.88 20.0V24.45M248.07 299.7V295.25M248.07 20.0V24.45M301.26 299.7V295.25M301.26 20.0V24.45M354.45 299.7V295.25M354.45 20.0V24.45M407.64 299.7V295.25M407.64 20.0V24.45M460.83 299.7V295.25M460.83 20.0V24.45M79.65 266.35H84.10000000000001M470.0 266.35H465.55M79.65 232.60H84.10000000000001M470.0 232.60H465.55M79.65 198.85H84.10000000000001M470.0 198.85H465.55M79.65 165.10H84.10000000000001M470.0 165.10H465.55M79.65 131.35H84.10000000000001M470.0 131.35H465.55M79.65 97.60H84.10000000000001M470.0 97.60H465.55M79.65 63.85H84.10000000000001M470.0 63.85H465.55M79.65 30.10H84.10000000000001M470.0 30.10H465.55" stroke="#000" stroke-width="1.9" fill="none"/>
<g transform="scale(0.95,1)" font-size="17">
<text x="95.2" y="322.2" text-anchor="middle">1</text>
<text x="151.1" y="322.2" text-anchor="middle">4</text>
<text x="207.1" y="322.2" text-anchor="middle">7</text>
<text x="263.9" y="322.2" text-anchor="middle">10</text>
<text x="319.9" y="322.2" text-anchor="middle">13</text>
<text x="375.8" y="322.2" text-anchor="middle">16</text>
<text x="431.8" y="322.2" text-anchor="middle">19</text>
<text x="487.8" y="322.2" text-anchor="middle">22</text>
<text x="73.5" y="306.1" text-anchor="end">-0.1</text>
<text x="73.5" y="272.4" text-anchor="end">0</text>
<text x="73.5" y="238.6" text-anchor="end">0.1</text>
<text x="73.5" y="204.9" text-anchor="end">0.2</text>
<text x="73.5" y="171.1" text-anchor="end">0.3</text>
<text x="73.5" y="137.4" text-anchor="end">0.4</text>
<text x="73.5" y="103.6" text-anchor="end">0.5</text>
<text x="73.5" y="69.9" text-anchor="end">0.6</text>
<text x="73.5" y="36.1" text-anchor="end">0.7</text>
</g>
<text x="275.1" y="343.2" font-size="20" font-style="italic" text-anchor="middle">n</text>
<g transform="translate(20.9,172.8) rotate(-90)"><text x="0" y="0" font-size="20.5">V</text><text x="16.6" y="5.2" font-size="17.5" font-weight="normal" font-style="italic">α</text><text x="20.6" y="-12.4" font-size="13.5">c</text></g>
<text x="192.1" y="46.6" font-size="18" textLength="52.6" lengthAdjust="spacingAndGlyphs" style="fill:#828282">1st red</text>
<text x="395.2" y="37.8" font-size="13.8" text-anchor="end">T=0.5</text>
<path d="M405.4 32.60H449.8" stroke="#8b0000" stroke-width="1.45"/>
<path d="M425.20 32.60H430.20M427.70 30.10V35.10" stroke="#8b0000" stroke-width="1.3" fill="none"/>
<text x="395.2" y="54.5" font-size="13.8" text-anchor="end">T=0.3333</text>
<path d="M405.4 49.27H449.8" stroke="#c05000" stroke-width="1.45"/>
<path d="M425.50 47.07L429.90 51.47M425.50 51.47L429.90 47.07" stroke="#c05000" stroke-width="1.3" fill="none"/>
<text x="395.2" y="71.1" font-size="13.8" text-anchor="end">T=0.25</text>
<path d="M405.4 65.93H449.8" stroke="#ff0000" stroke-width="1.45"/>
<rect x="425.35" y="63.58" width="4.7" height="4.7" stroke="#ff0000" stroke-width="1.25" fill="none"/><circle cx="427.70" cy="65.93" r="0.55" fill="#ff0000"/>
<text x="395.2" y="87.8" font-size="13.8" text-anchor="end">T=0.2</text>
<path d="M405.4 82.60H449.8" stroke="#ffa500" stroke-width="1.45"/>
<circle cx="427.70" cy="82.60" r="2.3" stroke="#ffa500" stroke-width="1.25" fill="none"/><circle cx="427.70" cy="82.60" r="0.55" fill="#ffa500"/>
<text x="395.2" y="104.5" font-size="13.8" text-anchor="end">T=0.1333</text>
<path d="M405.4 99.27H449.8" stroke="#ffd700" stroke-width="1.45"/>
<path d="M427.70 95.57L430.90 101.12L424.50 101.12Z" fill="#ffd700"/>
<text x="395.2" y="121.1" font-size="13.8" text-anchor="end">T=0.1</text>
<path d="M405.4 115.94H449.8" stroke="#006400" stroke-width="1.45"/>
<path d="M427.70 119.64L430.90 114.09L424.50 114.09Z" fill="#006400"/>
<text x="395.2" y="137.8" font-size="13.8" text-anchor="end">T=0.05</text>
<path d="M405.4 132.60H449.8" stroke="#0000ff" stroke-width="1.45"/>
<rect x="425.35" y="130.25" width="4.7" height="4.7" stroke="#0000ff" stroke-width="1.25" fill="none"/><circle cx="427.70" cy="132.60" r="0.55" fill="#0000ff"/>
<text x="395.2" y="154.5" font-size="13.8" text-anchor="end">T=0.025</text>
<path d="M405.4 149.27H449.8" stroke="#191970" stroke-width="1.45"/>
<circle cx="427.70" cy="149.27" r="2.3" stroke="#191970" stroke-width="1.25" fill="none"/><circle cx="427.70" cy="149.27" r="0.55" fill="#191970"/>
<text x="395.2" y="171.1" font-size="13.8" text-anchor="end">T=0.0125</text>
<path d="M405.4 165.94H449.8" stroke="#484848" stroke-width="1.45"/>
<path d="M427.70 162.54L430.50 165.94L427.70 169.34L424.90 165.94Z" fill="#484848"/>
<text x="395.2" y="187.8" font-size="13.8" text-anchor="end">T=0.00625</text>
<path d="M405.4 182.60H449.8" stroke="#000000" stroke-width="1.45"/>
<path d="M427.70 180.50L429.70 181.95L428.93 184.30L426.47 184.30L425.70 181.95Z" fill="#2a2a2a" stroke="#000000" stroke-width="1.4" stroke-linejoin="round"/>
</svg></body></html>
